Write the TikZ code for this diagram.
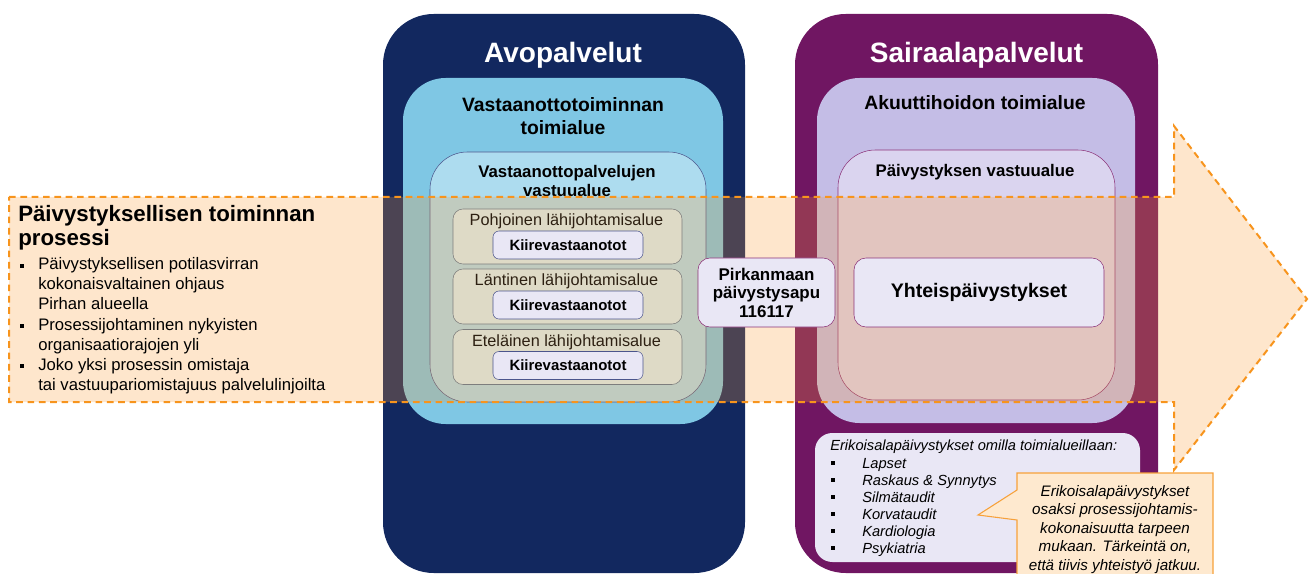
\documentclass[tikz,border=0pt]{standalone}
\usepackage{fontspec}
\setmainfont{Liberation Sans}
\usepackage{xcolor}
\usetikzlibrary{positioning}

\definecolor{avoblue}{RGB}{18,40,95}
\definecolor{saipurple}{RGB}{112,22,98}
\definecolor{skyblue}{RGB}{127,199,228}
\definecolor{paleblue}{RGB}{173,220,239}
\definecolor{lilac}{RGB}{196,189,230}
\definecolor{palelilac}{RGB}{218,212,239}
\definecolor{lavender}{RGB}{233,231,245}
\definecolor{sand}{RGB}{222,218,198}
\definecolor{subline}{RGB}{125,125,125}
\definecolor{areatext}{RGB}{45,32,18}
\definecolor{procorange}{RGB}{247,148,29}
\definecolor{procfill}{RGB}{250,155,50}
\definecolor{notefill}{RGB}{254,233,207}
\definecolor{noteline}{RGB}{247,161,58}
\definecolor{plumline}{RGB}{140,50,120}
\definecolor{navyline}{RGB}{75,85,140}

\begin{document}
\begin{tikzpicture}[x=0.75pt,y=-0.75pt,
    panel/.style={rectangle, rounded corners=#1, inner sep=0pt},
    txt/.style={inner sep=0pt, anchor=base},
    paneltitle/.style={txt, text=white, font=\bfseries\fontsize{21}{25}\selectfont},
    areatitle/.style={txt, font=\bfseries\fontsize{14.5}{17}\selectfont},
    unittitle/.style={txt, font=\bfseries\fontsize{12.6}{15}\selectfont},
    arealabel/.style={txt, text=areatext, font=\fontsize{12.2}{14}\selectfont},
    subbox/.style={panel=7.5pt, draw=subline, fill=sand, minimum width=171.75pt, minimum height=41.25pt},
    kiire/.style={panel=4.5pt, draw=navyline, fill=lavender, minimum width=112.5pt, minimum height=21pt, font=\bfseries\fontsize{11.2}{13}\selectfont},
    infobox/.style={panel=9pt, draw=plumline, fill=lavender, align=center},
    proctitle/.style={txt, anchor=base west, font=\bfseries\fontsize{16.7}{20}\selectfont},
    proclist/.style={txt, anchor=base west, font=\fontsize{12.5}{15}\selectfont},
    listnote/.style={txt, anchor=base west, font=\itshape\fontsize{11}{13}\selectfont},
    notetext/.style={txt, font=\itshape\fontsize{11.4}{13.5}\selectfont},
    bul/.style={rectangle, fill=black, inner sep=0pt, minimum size=3pt}]
\useasboundingbox (0,0) rectangle (1311,574);
\clip (0,0) rectangle (1311,574);

% palvelulinjat
\node (avo) [panel=38pt, fill=avoblue, minimum width=271.5pt, minimum height=419.25pt] at (564,293.5) {};
\node (sai) [panel=38pt, fill=saipurple, minimum width=272.25pt, minimum height=419.25pt] at (976.5,293.5) {};
\node (avoarea) [panel=32pt, fill=skyblue, minimum width=240pt, minimum height=259.5pt] at (563,251) {};
\node (saiarea) [panel=32pt, fill=lilac, minimum width=238.5pt, minimum height=258.75pt] at (976,250.5) {};
\node (avounit) [panel=28pt, fill=paleblue, draw=navyline, minimum width=207pt, minimum height=187.5pt] at (568,277) {};
\node (saiunit) [panel=28pt, fill=palelilac, draw=plumline, minimum width=207.75pt, minimum height=187.5pt] at (976.5,275) {};

\node (avotitle) [paneltitle] at (563,63) {Avopalvelut};
\node (saititle) [paneltitle] at (976.5,63) {Sairaalapalvelut};
\node (avoareatitle) [areatitle] at (563,112) {Vastaanottotoiminnan};
\node (avoareatitle2) [areatitle] at (563,135) {toimialue};
\node (saiareatitle) [areatitle] at (975,110) {Akuuttihoidon toimialue};
\node (avounittitle) [unittitle] at (567,178) {Vastaanottopalvelujen};
\node (avounittitle2) [unittitle] at (567,197) {vastuualue};
\node (saiunittitle) [unittitle] at (975,177) {Päivystyksen vastuualue};

% erikoisalat
\node (erik) [panel=13pt, fill=lavender, minimum width=243.75pt, minimum height=96.75pt] at (977.5,497.5) {};
\node (erikhead) [listnote] at (830,450) {Erikoisalapäivystykset omilla toimialueillaan:};
\foreach \txt [count=\i] in {Lapset, Raskaus \& Synnytys, Silmätaudit, Korvataudit, Kardiologia, Psykiatria}
{
  \node (erik\i) [listnote] at (862,{451+17*\i}) {\txt};
  \node [bul] at (833,{446+17*\i}) {};
}

% huomio
\path[fill=notefill, draw=noteline, line width=0.8pt]
  (1017,473) -- (1213,473) -- (1213,580) -- (1017,580) -- (1017,520) -- (978,515) -- (1017,490) -- cycle;
\foreach \txt [count=\i] in {Erikoisalapäivystykset, osaksi prosessijohtamis-, kokonaisuutta tarpeen, {mukaan. Tärkeintä on,}, {että tiivis yhteistyö jatkuu.}}
  \node (note\i) [notetext] at (1115,{477.5+18.5*\i}) {\txt};

% prosessinuoli
\path[fill=procfill, fill opacity=0.25, draw=procorange, line width=1.5pt, dash pattern=on 5pt off 3.5pt]
  (9,197) -- (1174,197) -- (1174,126) -- (1307,299) -- (1174,470) -- (1174,402) -- (9,402) -- cycle;
\node (proctitle) [proctitle] at (18,222) {Päivystyksellisen toiminnan};
\node (proctitle2) [proctitle] at (18,246) {prosessi};
\foreach \txt [count=\i] in {Päivystyksellisen potilasvirran, kokonaisvaltainen ohjaus, Pirhan alueella, Prosessijohtaminen nykyisten, organisaatiorajojen yli, Joko yksi prosessin omistaja, tai vastuupariomistajuus palvelulinjoilta}
  \node (proc\i) [proclist] at (38,{250+20*\i}) {\txt};
\foreach \i in {1,4,6}
  \node [bul] at (22,{246+20*\i}) {};

% lähijohtamisalueet
\foreach \nm/\y [count=\i] in {Pohjoinen/236.5, Läntinen/296.5, Eteläinen/357}
{
  \node (area\i) [subbox] at (567.5,\y) {};
  \node (arealabel\i) [arealabel] at (566.5,{\y-10.5}) {\nm\ lähijohtamisalue};
  \node (kiire\i) [kiire] at (568,{\y+8.5}) {Kiirevastaanotot};
}

\node (pirk) [infobox, minimum width=102.75pt, minimum height=51.75pt, font=\bfseries\fontsize{12.7}{13.9}\selectfont] at (766.5,292.5) {Pirkanmaan\\päivystysapu\\116117};
\node (yhteis) [infobox, minimum width=187.5pt, minimum height=51.75pt, font=\bfseries\fontsize{14.7}{17}\selectfont] at (979,292.5) {Yhteispäivystykset};
\end{tikzpicture}
\end{document}
